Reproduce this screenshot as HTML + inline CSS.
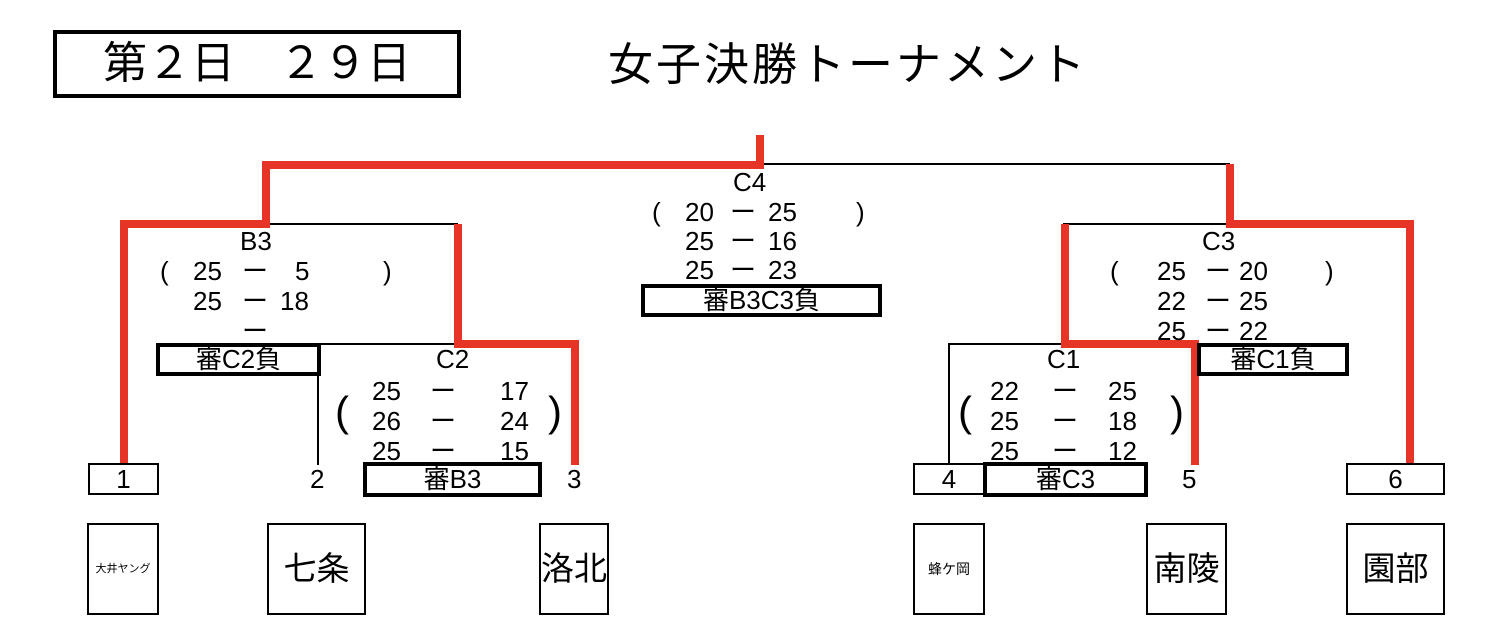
<!DOCTYPE html>
<html><head><meta charset="utf-8"><style>
body{margin:0;width:1494px;height:644px;background:#fff;position:relative;overflow:hidden;font-family:"Liberation Sans","Noto Sans CJK JP",sans-serif;color:#000}
.t{position:absolute;font-size:26px;line-height:30px;white-space:nowrap}
.b{position:absolute;box-sizing:border-box;border:2px solid #000;text-align:center}
.k{border-width:4px}
svg{position:absolute;left:0;top:0}
</style></head><body>
<svg width="1494" height="644">
<g stroke="#000" stroke-width="2" fill="none">
<polyline points="760,164 1230,164"/>
<polyline points="265,224 458,224"/>
<polyline points="320,344 458,344"/>
<polyline points="318,375 318,465"/>
<polyline points="1063,224 1230,224"/>
<polyline points="949,465 949,344 1063,344"/>
</g>
<g stroke="#e63426" stroke-width="8" fill="none">
<polyline points="760,135 760,165 266,165 266,224 124,224 124,465"/>
<polyline points="458,224 458,344 575,344 575,465"/>
<polyline points="1230,164 1230,224 1410,224 1410,465"/>
<polyline points="1065,224 1065,344 1195,344 1195,465"/>
</g>
</svg>
<div class="b k" style="left:53px;top:30px;width:408px;height:68px;font-size:44px;line-height:60px">第２日　２９日</div>
<div class="t" style="left:608px;top:38px;font-size:45px;line-height:54px;letter-spacing:3px">女子決勝トーナメント</div>

<!-- B3 -->
<div class="t" style="left:240px;top:226px">B3</div>
<div class="t" style="left:160px;top:256px">(</div>
<div class="t" style="left:193px;top:256px">25</div>
<div class="t" style="left:242px;top:256px">ー</div>
<div class="t" style="left:295px;top:256px">5</div>
<div class="t" style="left:383px;top:256px">)</div>
<div class="t" style="left:193px;top:286px">25</div>
<div class="t" style="left:242px;top:286px">ー</div>
<div class="t" style="left:280px;top:286px">18</div>
<div class="t" style="left:242px;top:316px">ー</div>
<div class="b k" style="left:156px;top:343px;width:165px;height:33px;font-size:26px;line-height:25px">審C2負</div>

<!-- C2 -->
<div class="t" style="left:436px;top:344px">C2</div>
<div class="t" style="left:335px;top:388px;font-size:42px;line-height:48px">(</div>
<div class="t" style="left:548px;top:388px;font-size:42px;line-height:48px">)</div>
<div class="t" style="left:372px;top:376px">25</div>
<div class="t" style="left:430px;top:376px">ー</div>
<div class="t" style="left:500px;top:376px">17</div>
<div class="t" style="left:372px;top:406px">26</div>
<div class="t" style="left:430px;top:406px">ー</div>
<div class="t" style="left:500px;top:406px">24</div>
<div class="t" style="left:372px;top:436px">25</div>
<div class="t" style="left:430px;top:436px">ー</div>
<div class="t" style="left:500px;top:436px">15</div>

<!-- C4 -->
<div class="t" style="left:733px;top:167px">C4</div>
<div class="t" style="left:652px;top:197px">(</div>
<div class="t" style="left:685px;top:197px">20</div>
<div class="t" style="left:730px;top:197px">ー</div>
<div class="t" style="left:768px;top:197px">25</div>
<div class="t" style="left:856px;top:197px">)</div>
<div class="t" style="left:685px;top:226px">25</div>
<div class="t" style="left:730px;top:226px">ー</div>
<div class="t" style="left:768px;top:226px">16</div>
<div class="t" style="left:685px;top:255px">25</div>
<div class="t" style="left:730px;top:255px">ー</div>
<div class="t" style="left:768px;top:255px">23</div>
<div class="b k" style="left:641px;top:284px;width:241px;height:33px;font-size:26px;line-height:25px">審B3C3負</div>

<!-- C3 -->
<div class="t" style="left:1202px;top:226px">C3</div>
<div class="t" style="left:1110px;top:256px">(</div>
<div class="t" style="left:1157px;top:256px">25</div>
<div class="t" style="left:1205px;top:256px">ー</div>
<div class="t" style="left:1239px;top:256px">20</div>
<div class="t" style="left:1325px;top:256px">)</div>
<div class="t" style="left:1157px;top:286px">22</div>
<div class="t" style="left:1205px;top:286px">ー</div>
<div class="t" style="left:1239px;top:286px">25</div>
<div class="t" style="left:1157px;top:316px">25</div>
<div class="t" style="left:1205px;top:316px">ー</div>
<div class="t" style="left:1239px;top:316px">22</div>
<div class="b k" style="left:1197px;top:343px;width:152px;height:33px;font-size:26px;line-height:25px">審C1負</div>

<!-- C1 -->
<div class="t" style="left:1047px;top:344px">C1</div>
<div class="t" style="left:958px;top:388px;font-size:42px;line-height:48px">(</div>
<div class="t" style="left:1170px;top:388px;font-size:42px;line-height:48px">)</div>
<div class="t" style="left:990px;top:376px">22</div>
<div class="t" style="left:1052px;top:376px">ー</div>
<div class="t" style="left:1108px;top:376px">25</div>
<div class="t" style="left:990px;top:406px">25</div>
<div class="t" style="left:1052px;top:406px">ー</div>
<div class="t" style="left:1108px;top:406px">18</div>
<div class="t" style="left:990px;top:436px">25</div>
<div class="t" style="left:1052px;top:436px">ー</div>
<div class="t" style="left:1108px;top:436px">12</div>

<!-- seed row -->
<div class="b" style="left:88px;top:463px;width:71px;height:32px;font-size:26px;line-height:28px">1</div>
<div class="t" style="left:310px;top:464px">2</div>
<div class="b k" style="left:363px;top:462px;width:179px;height:35px;font-size:26px;line-height:27px">審B3</div>
<div class="t" style="left:567px;top:464px">3</div>
<div class="b" style="left:913px;top:463px;width:72px;height:32px;font-size:26px;line-height:28px">4</div>
<div class="b k" style="left:983px;top:462px;width:165px;height:35px;font-size:26px;line-height:27px">審C3</div>
<div class="t" style="left:1182px;top:464px">5</div>
<div class="b" style="left:1346px;top:463px;width:99px;height:32px;font-size:26px;line-height:28px">6</div>

<!-- teams -->
<div class="b" style="left:87px;top:523px;width:72px;height:92px;font-size:11px;line-height:88px">大井ヤング</div>
<div class="b" style="left:267px;top:523px;width:99px;height:92px;font-size:33px;line-height:88px">七条</div>
<div class="b" style="left:539px;top:523px;width:70px;height:92px;font-size:33px;line-height:88px">洛北</div>
<div class="b" style="left:913px;top:523px;width:72px;height:92px;font-size:14px;line-height:88px">蜂ケ岡</div>
<div class="b" style="left:1146px;top:523px;width:81px;height:92px;font-size:33px;line-height:88px">南陵</div>
<div class="b" style="left:1346px;top:523px;width:99px;height:92px;font-size:33px;line-height:88px">園部</div>
</body></html>
